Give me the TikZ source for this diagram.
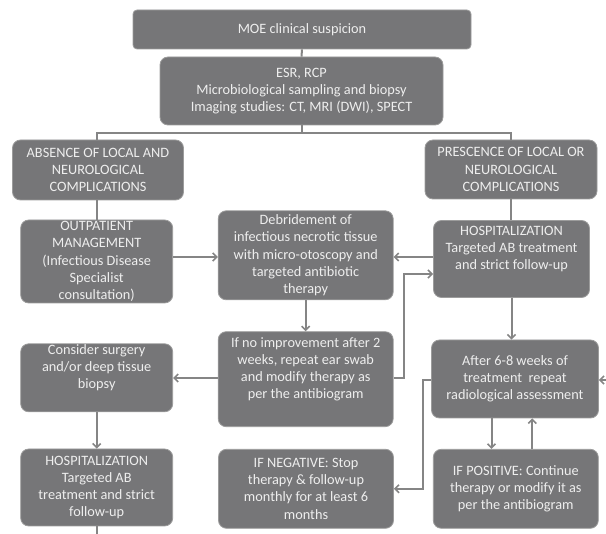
\documentclass[tikz,border=0pt]{standalone}
\usepackage{fontspec}
\setmainfont{Carlito}
\usetikzlibrary{arrows.meta,calc}
\definecolor{boxfill}{HTML}{767678}
\definecolor{boxedge}{HTML}{9C9C9C}
\definecolor{boxtext}{HTML}{EEEEEE}
\definecolor{linkcol}{HTML}{858585}
\begin{document}
\begin{tikzpicture}[x=1pt,y=1pt,
  box/.style={draw=boxedge, line width=0.8pt, fill=boxfill, text=boxtext,
    rounded corners=8pt, align=center, inner xsep=1pt, inner ysep=0pt,
    font=\fontsize{14.3}{17.2}\selectfont},
  link/.style={draw=linkcol, line width=2pt},
  arr/.style={link, -{Straight Barb[length=4pt,width=8pt,line width=1.6pt]}}
]
\useasboundingbox (0,0) rectangle (606,-534);

\node[box, rounded corners=4pt, minimum width=338, minimum height=39] (moe) at (302,-29.5) {MOE clinical suspicion};
\node[box, minimum width=283, minimum height=68] (esr) at (301.5,-91) {ESR, RCP\\Microbiological sampling and biopsy\\Imaging studies: CT, MRI (DWI), SPECT};
\node[box, minimum width=171, minimum height=60] (abs) at (98,-170) {ABSENCE OF LOCAL AND\\NEUROLOGICAL\\COMPLICATIONS};
\node[box, minimum width=172, minimum height=59] (pre) at (511,-169.5) {PRESCENCE OF LOCAL OR\\NEUROLOGICAL\\COMPLICATIONS};
\node[box, minimum width=152, minimum height=83] (out) at (96.7,-261.5) {OUTPATIENT\\MANAGEMENT\\(Infectious Disease\\Specialist\\consultation)};
\node[box, minimum width=175, minimum height=89] (deb) at (305.7,-255.3) {Debridement of\\infectious necrotic tissue\\with micro-otoscopy and\\targeted antibiotic\\therapy};
\node[box, minimum width=156, minimum height=77] (hr) at (511.5,-259) {HOSPITALIZATION\\Targeted AB treatment\\and strict follow-up\\\strut};
\node[box, minimum width=175, minimum height=95] (ifno) at (305.7,-379.2) {If no improvement after 2\\weeks, repeat ear swab\\and modify therapy as\\per the antibiogram\\\strut};
\node[box, minimum width=152, minimum height=68] (cons) at (96.7,-377.8) {Consider surgery\\and/or deep tissue\\biopsy\\\strut};
\node[box, minimum width=167, minimum height=78] (aft) at (515,-379) {After 6-8 weeks of\\treatment\ \ repeat\\radiological assessment};
\node[box, minimum width=152, minimum height=77] (hl) at (96.7,-487.5) {HOSPITALIZATION\\Targeted AB\\treatment and strict\\follow-up};
\node[box, minimum width=175, minimum height=79] (ineg) at (306,-488.8) {IF NEGATIVE: Stop\\therapy \& follow-up\\monthly for at least 6\\months};
\node[box, minimum width=165, minimum height=79] (ipos) at (515.8,-488.8) {IF POSITIVE: Continue\\therapy or modify it as\\per the antibiogram};

\coordinate (split) at (301.5,-133);
\coordinate (loopa) at (404,-378);
\coordinate (loopb) at (422.7,-380);
\coordinate (rightin) at (606,-380);
\coordinate (bottomend) at (96.7,-534);

\draw[link] (moe.south) -- (esr.north);
\draw[link] (esr.south) -- (split);
\draw[link] (abs.north -| out.north) |- (split) -| (pre.north);
\draw[link] (abs.south -| out.north) -- (out.north);
\draw[link] (pre.south) -- (pre.south |- hr.north);
\draw[arr] ([yshift=4.5]out.east) -- ([yshift=4.5]out.east -| deb.west);
\draw[arr] ([yshift=2]hr.west) -- ([yshift=2]hr.west -| deb.east);
\draw[arr] (deb.south) -- (ifno.north);
\draw[arr] (ifno.east |- loopa) -- (loopa) |- ([yshift=-15]hr.west);
\draw[arr] ([yshift=1.2]ifno.west) -- ([yshift=1.2]ifno.west -| cons.east);
\draw[arr] (cons.south) -- (hl.north);
\draw[link] (hl.south) -- (bottomend);
\draw[arr] (hr.south) -- (hr.south |- aft.north);
\draw[arr] (rightin) -- (rightin -| aft.east);
\draw[arr] (aft.west |- loopb) -- (loopb) |- (ineg.east);
\draw[arr] ([xshift=-23.5]aft.south) -- ([xshift=-23.5]aft.south |- ipos.north);
\draw[arr] ([xshift=16.5]ipos.north) -- ([xshift=16.5]ipos.north |- aft.south);
\end{tikzpicture}
\end{document}
